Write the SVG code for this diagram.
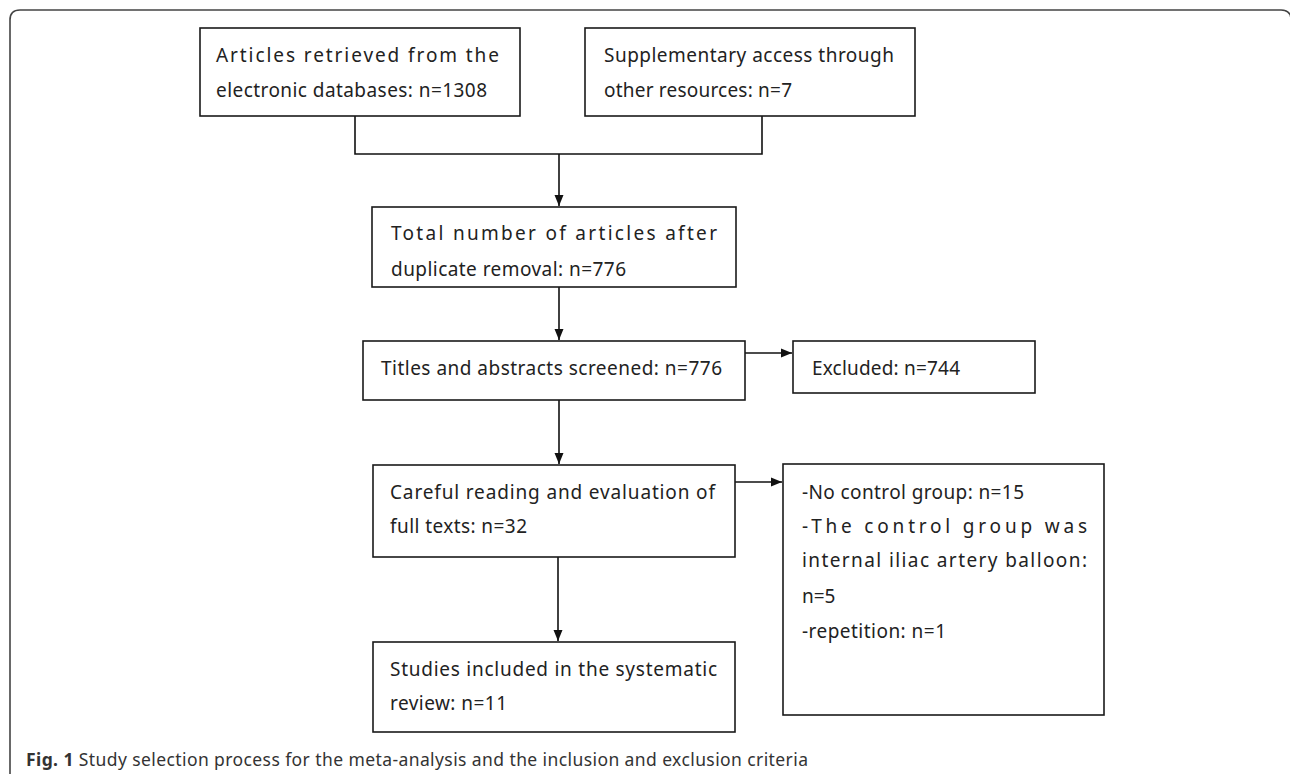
<svg xmlns="http://www.w3.org/2000/svg" width="1290" height="774" viewBox="0 0 1290 774">
<style>
.box{fill:#fff;stroke:#1a1a1a;stroke-width:1.6}
.t{font-family:"Noto Sans","Open Sans","Liberation Sans",sans-serif;font-size:19px;fill:#222}
.conn{fill:none;stroke:#111;stroke-width:1.6}
.cap{font-family:"Noto Sans","Open Sans","Liberation Sans",sans-serif;font-size:17.5px;fill:#333}
</style>
<defs>
<marker id="ah" markerUnits="userSpaceOnUse" markerWidth="11" markerHeight="11" viewBox="0 0 11 11" refX="11" refY="5.5" orient="auto">
<path d="M0,1 L11,5.5 L0,10 Z" fill="#111"/>
</marker>
</defs>
<rect width="1290" height="774" fill="#fff"/>
<path d="M10,780 V20 Q10,10 20,10 H1281 Q1291,10 1291,20 V780" fill="none" stroke="#444" stroke-width="1.6"/>
<g id="connectors">
<path class="conn" d="M355,116 V154 H762 V116"/>
<line class="conn" x1="559" y1="154" x2="559" y2="206" marker-end="url(#ah)"/>
<line class="conn" x1="559" y1="287" x2="559" y2="340" marker-end="url(#ah)"/>
<line class="conn" x1="745" y1="353" x2="792" y2="353" marker-end="url(#ah)"/>
<line class="conn" x1="559" y1="400" x2="559" y2="464" marker-end="url(#ah)"/>
<line class="conn" x1="735" y1="482" x2="782" y2="482" marker-end="url(#ah)"/>
<line class="conn" x1="558" y1="557" x2="558" y2="641" marker-end="url(#ah)"/>
</g>
<g id="n1">
<rect class="box" x="200" y="28" width="320" height="88"/>
<text class="t" x="216" y="62" textLength="283">Articles retrieved from the</text>
<text class="t" x="216" y="97" textLength="271">electronic databases: n=1308</text>
</g>
<g id="n2">
<rect class="box" x="585" y="28" width="330" height="88"/>
<text class="t" x="604" y="62" textLength="290">Supplementary access through</text>
<text class="t" x="604" y="97" textLength="188">other resources: n=7</text>
</g>
<g id="n3">
<rect class="box" x="372" y="207" width="364" height="80"/>
<text class="t" x="391" y="240" textLength="326">Total number of articles after</text>
<text class="t" x="391" y="276" textLength="235">duplicate removal: n=776</text>
</g>
<g id="n4">
<rect class="box" x="363" y="341" width="382" height="59"/>
<text class="t" x="381" y="375" textLength="341">Titles and abstracts screened: n=776</text>
</g>
<g id="n5">
<rect class="box" x="793" y="341" width="242" height="52"/>
<text class="t" x="812" y="375" textLength="148">Excluded: n=744</text>
</g>
<g id="n6">
<rect class="box" x="373" y="465" width="362" height="92"/>
<text class="t" x="390" y="499" textLength="325">Careful reading and evaluation of</text>
<text class="t" x="390" y="533" textLength="137">full texts: n=32</text>
</g>
<g id="n7">
<rect class="box" x="783" y="464" width="321" height="251"/>
<text class="t" x="802" y="499" textLength="222">-No control group: n=15</text>
<text class="t" x="802" y="533" textLength="285">-The control group was</text>
<text class="t" x="802" y="567" textLength="285">internal iliac artery balloon:</text>
<text class="t" x="802" y="603">n=5</text>
<text class="t" x="802" y="638" textLength="144">-repetition: n=1</text>
</g>
<g id="n8">
<rect class="box" x="373" y="642" width="362" height="90"/>
<text class="t" x="390" y="676" textLength="327">Studies included in the systematic</text>
<text class="t" x="390" y="710" textLength="117">review: n=11</text>
</g>
<text class="cap" x="26" y="766" textLength="782"><tspan font-weight="bold">Fig. 1</tspan> Study selection process for the meta-analysis and the inclusion and exclusion criteria</text>
</svg>
